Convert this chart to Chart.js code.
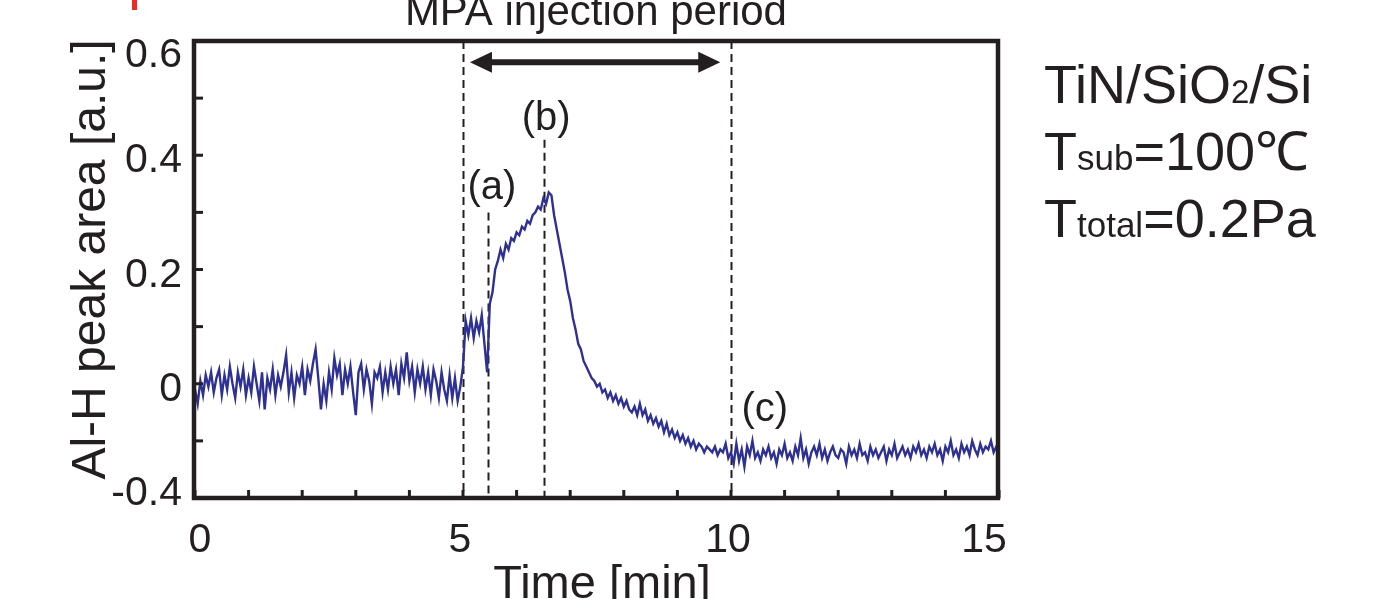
<!DOCTYPE html>
<html>
<head>
<meta charset="utf-8">
<script src="https://cdn.jsdelivr.net/npm/chart.js@4.4.1/dist/chart.umd.min.js"></script>
<style>
  html, body { margin: 0; padding: 0; background: #fff; }
  #wrap { width: 1390px; height: 599px; }
</style>
</head>
<body>
<div id="wrap"><canvas id="chart" width="1390" height="599"></canvas></div>
<script>
// sampling interval of the trace (min)
const SAMPLE_STEP = 0.05;

// Al-H peak area [a.u.], 0.00 - 4.95 min
const beforeInjection = [
    -0.01, -0.035, 0.005, -0.02, 0.015, -0.005, 0.02, -0.015, 0.01, 0.025,
    -0.02, 0.015, -0.01, 0.03, 0.0, -0.025, 0.02, -0.005, 0.025, -0.02,
    0.01, -0.015, 0.03, 0.0, -0.03, 0.02, -0.045, 0.01, -0.01, 0.025,
    -0.02, 0.015, -0.005, 0.02, 0.05, -0.015, 0.02, -0.025, 0.015, 0.0,
    0.03, -0.02, 0.025, 0.005, 0.035, 0.06, 0.01, -0.045, 0.0, -0.03,
    0.02, -0.01, 0.045, 0.015, 0.035, -0.02, 0.025, 0.0, 0.03, -0.015,
    -0.055, 0.02, 0.035, -0.01, 0.025, 0.005, -0.035, 0.02, 0.01, 0.03,
    -0.015, 0.02, -0.01, 0.03, 0.0, 0.025, -0.02, 0.035, 0.01, 0.055,
    0.005, 0.03, -0.015, 0.025, 0.0, 0.03, -0.01, 0.02, -0.02, 0.025,
    0.005, -0.025, 0.02, -0.01, -0.03, 0.015, -0.025, 0.01, -0.03, -0.005
];
// 5.00 - 10.00 min
const duringInjection = [
    0.03, 0.11, 0.085, 0.115, 0.08, 0.11, 0.09, 0.12, 0.07, 0.02,
    0.14, 0.16, 0.2, 0.215, 0.235, 0.22, 0.245, 0.235, 0.255, 0.25,
    0.265, 0.26, 0.275, 0.27, 0.285, 0.28, 0.295, 0.3, 0.31, 0.305,
    0.325, 0.315, 0.335, 0.33, 0.295, 0.27, 0.245, 0.22, 0.195, 0.165,
    0.145, 0.115, 0.095, 0.07, 0.06, 0.04, 0.03, 0.02, 0.01, 0.005,
    -0.005, 0.0, -0.015, -0.01, -0.025, -0.015, -0.03, -0.02, -0.035, -0.025,
    -0.04, -0.03, -0.045, -0.05, -0.04, -0.055, -0.035, -0.055, -0.045, -0.065,
    -0.055, -0.07, -0.06, -0.075, -0.065, -0.085, -0.07, -0.09, -0.08, -0.095,
    -0.085, -0.1, -0.09, -0.105, -0.095, -0.11, -0.1, -0.115, -0.105, -0.11,
    -0.12, -0.11, -0.115, -0.12, -0.11, -0.125, -0.115, -0.12, -0.105, -0.13,
    -0.12
];
// 10.05 - 15.00 min
const afterInjection = [
    -0.14, -0.105, -0.135, -0.115, -0.145, -0.11, -0.125, -0.1, -0.13, -0.12,
    -0.135, -0.115, -0.125, -0.11, -0.13, -0.12, -0.14, -0.115, -0.125, -0.105,
    -0.13, -0.12, -0.135, -0.11, -0.125, -0.095, -0.13, -0.115, -0.14, -0.12,
    -0.11, -0.125, -0.105, -0.13, -0.115, -0.135, -0.12, -0.11, -0.125, -0.13,
    -0.115, -0.12, -0.14, -0.11, -0.125, -0.115, -0.13, -0.105, -0.125, -0.12,
    -0.135, -0.11, -0.125, -0.115, -0.13, -0.12, -0.11, -0.135, -0.115, -0.125,
    -0.105, -0.13, -0.12, -0.11, -0.125, -0.115, -0.13, -0.11, -0.12, -0.105,
    -0.125, -0.115, -0.13, -0.11, -0.12, -0.105, -0.125, -0.115, -0.135, -0.11,
    -0.12, -0.1, -0.125, -0.115, -0.13, -0.105, -0.12, -0.11, -0.125, -0.1,
    -0.115, -0.125, -0.105, -0.12, -0.11, -0.115, -0.1, -0.12, -0.11, -0.115
];

// axis tick labels (the bottom one reads -0.4 in the original)
const xTickValues = [0, 5, 10, 15];
const xTickLabels = ['0', '5', '10', '15'];
const yTickValues = [0.6, 0.4, 0.2, 0, -0.2];
const yTickLabels = ['0.6', '0.4', '0.2', '0', '-0.4'];

// dashed markers: time and the value where each dash line starts
const markerTimes = [5, 5.46, 6.52, 10];
const markerTops = [0.6, 0.3, 0.427, 0.6];

// (a) (b) (c) labels
const pointLabels = ['(a)', '(b)', '(c)'];
const pointLabelTimes = [5.54, 6.55, 10.63];
const pointLabelValues = [0.323, 0.445, -0.065];

// injection period arrow
const arrowStart = 5.13;
const arrowEnd = 9.8;
const arrowValue = 0.563;

const traceValues = beforeInjection.concat(duringInjection, afterInjection);
const points = traceValues.map((v, i) => ({ x: +(i * SAMPLE_STEP).toFixed(2), y: v }));

const FONT = '"Liberation Sans", Arial, Helvetica, sans-serif';
const INK = '#231f20';

const figurePlugin = {
    id: 'figure',
    beforeDatasetsDraw(chart) {
        const { ctx, scales: { x, y } } = chart;
        ctx.save();
        ctx.strokeStyle = INK;
        ctx.lineWidth = 2;
        ctx.setLineDash([8, 5]);
        markerTimes.forEach((t, i) => {
            const px = Math.round(x.getPixelForValue(t)) + 0.5;
            ctx.beginPath();
            ctx.moveTo(px, y.getPixelForValue(markerTops[i]));
            ctx.lineTo(px, y.getPixelForValue(-0.2));
            ctx.stroke();
        });
        ctx.restore();
    },
    afterDatasetsDraw(chart) {
        const { ctx, chartArea: a, scales: { x, y } } = chart;
        ctx.save();

        // frame
        ctx.strokeStyle = INK;
        ctx.lineWidth = 4.5;
        ctx.strokeRect(a.left - 1, a.top, a.right - a.left, a.bottom - a.top);

        // inward ticks
        ctx.lineWidth = 3;
        x.ticks.forEach(tk => {
            const px = x.getPixelForValue(tk.value);
            ctx.beginPath();
            ctx.moveTo(px, a.bottom);
            ctx.lineTo(px, a.bottom - 8);
            ctx.stroke();
        });
        y.ticks.forEach(tk => {
            const py = y.getPixelForValue(tk.value);
            ctx.beginPath();
            ctx.moveTo(a.left, py);
            ctx.lineTo(a.left + 8, py);
            ctx.stroke();
        });

        ctx.fillStyle = INK;

        // y tick labels
        ctx.font = '41px ' + FONT;
        ctx.textAlign = 'right';
        ctx.textBaseline = 'alphabetic';
        yTickValues.forEach((v, i) => {
            let cy = y.getPixelForValue(v) + 2;
            cy = Math.min(Math.max(cy, a.top + 11), a.bottom - 8);
            ctx.fillText(yTickLabels[i], a.left - 13, cy + 15);
        });

        // x tick labels
        ctx.textAlign = 'center';
        xTickValues.forEach((v, i) => {
            let cx = x.getPixelForValue(v) - 3;
            cx = Math.min(Math.max(cx, a.left + 5), a.right - 15);
            ctx.fillText(xTickLabels[i], cx, a.bottom + 54);
        });

        // axis titles
        ctx.font = '47px ' + FONT;
        ctx.fillText('Time [min]', (a.left + a.right) / 2 + 5, a.bottom + 100);
        ctx.font = '48px ' + FONT;
        ctx.save();
        ctx.translate(105, (a.top + a.bottom) / 2 - 10);
        ctx.rotate(-Math.PI / 2);
        ctx.fillText('Al-H peak area [a.u.]', 0, 0);
        ctx.restore();

        // period title and arrow
        ctx.font = '42px ' + FONT;
        ctx.fillText('MPA injection period', x.getPixelForValue(7.48), a.top - 16);

        const ax1 = x.getPixelForValue(arrowStart);
        const ax2 = x.getPixelForValue(arrowEnd);
        const ay = y.getPixelForValue(arrowValue);
        const head = 22, half = 10.5;
        ctx.lineWidth = 6;
        ctx.beginPath();
        ctx.moveTo(ax1 + head - 2, ay);
        ctx.lineTo(ax2 - head + 2, ay);
        ctx.stroke();
        ctx.beginPath();
        ctx.moveTo(ax1, ay);
        ctx.lineTo(ax1 + head, ay - half);
        ctx.lineTo(ax1 + head, ay + half);
        ctx.closePath();
        ctx.fill();
        ctx.beginPath();
        ctx.moveTo(ax2, ay);
        ctx.lineTo(ax2 - head, ay - half);
        ctx.lineTo(ax2 - head, ay + half);
        ctx.closePath();
        ctx.fill();

        // (a) (b) (c)
        ctx.font = '40px ' + FONT;
        pointLabels.forEach((s, i) => {
            ctx.fillText(s, x.getPixelForValue(pointLabelTimes[i]), y.getPixelForValue(pointLabelValues[i]));
        });

        // conditions on the right
        const drawRuns = (runs, left, base) => {
            let cx = left;
            ctx.textAlign = 'left';
            runs.forEach(([text, size]) => {
                ctx.font = size + 'px ' + FONT;
                ctx.fillText(text, cx, base);
                cx += ctx.measureText(text).width;
            });
        };
        const rx = a.right + 45;
        drawRuns([['TiN/SiO', 54], ['2', 33], ['/Si', 54]], rx, 103);
        drawRuns([['T', 54], ['sub', 35], ['=100\u2103', 54]], rx, 170);
        drawRuns([['T', 54], ['total', 35], ['=0.2Pa', 54]], rx, 237);

        // small red mark at top left
        ctx.fillStyle = '#ee2a24';
        ctx.fillRect(132, 0, 5, 10);

        ctx.restore();
    }
};

new Chart(document.getElementById('chart'), {
    type: 'line',
    data: {
        datasets: [{
            data: points,
            borderColor: '#2e3192',
            borderWidth: 2.4,
            pointRadius: 0,
            tension: 0,
            fill: false
        }]
    },
    options: {
        responsive: false,
        animation: false,
        events: [],
        layout: { padding: { left: 0, right: 391, top: 41, bottom: 0 } },
        plugins: { legend: { display: false }, tooltip: { enabled: false } },
        scales: {
            x: {
                type: 'linear',
                min: 0,
                max: 15,
                ticks: { display: false, stepSize: 1 },
                grid: { display: false },
                border: { display: false },
                afterFit: s => { s.height = 101; }
            },
            y: {
                type: 'linear',
                min: -0.2,
                max: 0.6,
                ticks: { display: false, stepSize: 0.1 },
                grid: { display: false },
                border: { display: false },
                afterFit: s => { s.width = 195; }
            }
        }
    },
    plugins: [figurePlugin]
});
</script>
</body>
</html>
